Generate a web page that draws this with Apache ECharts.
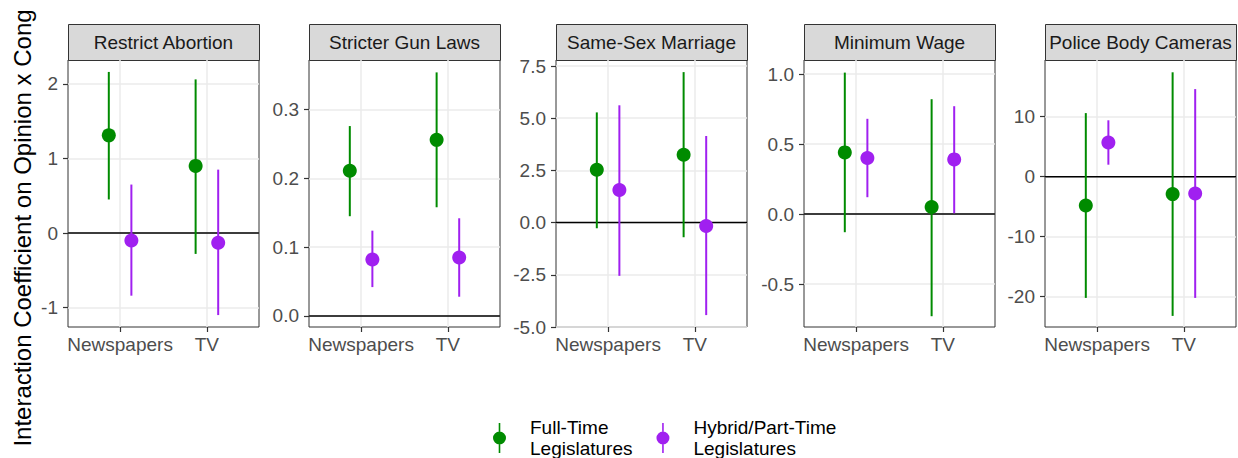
<!DOCTYPE html>
<html>
<head>
	<meta charset="utf-8" />
	<title>Interaction coefficients</title>
	<script src="https://cdn.jsdelivr.net/npm/echarts@6/dist/echarts.min.js"></script>
	<style>
		html, body { margin: 0; padding: 0; background: #fff; }
	</style>
</head>
<body>
	<div id="main" style="width: 1238px;height: 458px;"></div>
	<script type="text/javascript">

		// categories and facets
		var categories = ['Newspapers', 'TV'];
		var panels = ['Restrict Abortion', 'Stricter Gun Laws', 'Same-Sex Marriage', 'Minimum Wage', 'Police Body Cameras'];

		// Full-Time legislatures: estimate, lower, upper  (per panel: [Newspapers, TV])
		var fullEst = [[1.31, 0.90], [0.211, 0.256], [2.53, 3.25], [0.44, 0.05], [-4.8, -2.9]];
		var fullLo  = [[0.45, -0.28], [0.145, 0.158], [-0.27, -0.70], [-0.13, -0.73], [-20.2, -23.2]];
		var fullHi  = [[2.16, 2.06], [0.276, 0.354], [5.28, 7.21], [1.01, 0.82], [10.6, 17.4]];

		// Hybrid/Part-Time legislatures
		var partEst = [[-0.10, -0.13], [0.082, 0.085], [1.56, -0.16], [0.40, 0.39], [5.7, -2.8]];
		var partLo  = [[-0.84, -1.10], [0.042, 0.028], [-2.55, -4.43], [0.12, 0.005], [2.0, -20.2]];
		var partHi  = [[0.65, 0.85], [0.124, 0.142], [5.62, 4.15], [0.68, 0.77], [9.4, 14.6]];

		// y axis tick labels and extents for each facet
		var yTicks = [[-1, 0, 1, 2], [0, 0.1, 0.2, 0.3], [-5, -2.5, 0, 2.5, 5, 7.5], [-0.5, 0, 0.5, 1], [-20, -10, 0, 10]];
		var yDigits = [0, 1, 1, 1, 0];
		var yMin = [-1.26, -0.016, -5.0, -0.807, -25.05];
		var yMax = [2.32, 0.372, 7.79, 1.1, 19.45];

		var FONT = 'Liberation Sans, Arial, sans-serif';
		var GREEN = '#008B00', PURPLE = '#A020F0';
		var dodge = 0.13;

		// panel placement (px)
		var lefts = [68, 309, 556, 804, 1045];
		var panelW = 191, panelTop = 60, panelH = 267;

		var myChart = echarts.init(document.getElementById('main'), null, {renderer: 'svg'});

		function renderItem(params, api) {
			var x = api.value(0);
			var hi = api.coord([x, api.value(3)]);
			var lo = api.coord([x, api.value(2)]);
			var mid = api.coord([x, api.value(1)]);
			var color = api.visual('color');
			return {
				type: 'group',
				children: [
					{type: 'line', shape: {x1: hi[0], y1: hi[1], x2: lo[0], y2: lo[1]}, style: {stroke: color, lineWidth: 2}},
					{type: 'circle', shape: {cx: mid[0], cy: mid[1], r: 7}, style: {fill: color}}
				]
			};
		}

		function rows(est, lo, hi, off) {
			var out = [];
			for (var c = 0; c < categories.length; c++) {
				out.push([c + 1 + off, est[c], lo[c], hi[c]]);
			}
			return out;
		}

		var grids = [], xAxes = [], yAxes = [], series = [], graphics = [];

		for (var i = 0; i < panels.length; i++) {
			grids.push({
				left: lefts[i], top: panelTop, width: panelW, height: panelH,
				show: true, backgroundColor: '#fff', borderColor: '#333333', borderWidth: 1
			});
			xAxes.push({
				gridIndex: i, type: 'value', min: 0.4, max: 2.6,
				axisLine: {show: false, onZero: false},
				axisTick: {show: true, length: 5, customValues: [1, 2], lineStyle: {color: '#333333', width: 1.2}},
				axisLabel: {
					customValues: [1, 2], margin: 8, color: '#4D4D4D', fontSize: 19, fontFamily: FONT,
					formatter: function (v) { return categories[Math.round(v) - 1]; }
				},
				splitLine: {show: true, lineStyle: {color: '#EBEBEB', width: 1.5}}
			});
			(function (d) {
				yAxes.push({
					gridIndex: i, type: 'value', min: yMin[i], max: yMax[i],
					axisLine: {show: false, onZero: false},
					axisTick: {show: true, length: 5, customValues: yTicks[i], lineStyle: {color: '#333333', width: 1.2}},
					axisLabel: {
						customValues: yTicks[i], margin: 10, color: '#4D4D4D', fontSize: 19, fontFamily: FONT,
						formatter: function (v) { return v.toFixed(d); }
					},
					splitLine: {show: true, lineStyle: {color: '#EBEBEB', width: 1.5}}
				});
			})(yDigits[i]);

			// horizontal zero line
			series.push({
				type: 'line', xAxisIndex: i, yAxisIndex: i, silent: true, symbol: 'none', z: 2,
				data: [[0.4, 0], [2.6, 0]],
				lineStyle: {color: '#000', width: 1.5}
			});
			series.push({
				name: 'Full-Time', type: 'custom', xAxisIndex: i, yAxisIndex: i, z: 3,
				itemStyle: {color: GREEN}, renderItem: renderItem,
				encode: {x: 0, y: [1, 2, 3]},
				data: rows(fullEst[i], fullLo[i], fullHi[i], -dodge)
			});
			series.push({
				name: 'Hybrid/Part-Time', type: 'custom', xAxisIndex: i, yAxisIndex: i, z: 3,
				itemStyle: {color: PURPLE}, renderItem: renderItem,
				encode: {x: 0, y: [1, 2, 3]},
				data: rows(partEst[i], partLo[i], partHi[i], dodge)
			});

			// facet strip
			graphics.push({
				type: 'rect', left: lefts[i], top: 24,
				shape: {width: panelW, height: 36},
				style: {fill: '#D9D9D9', stroke: '#333333', lineWidth: 1}
			});
			graphics.push({
				type: 'text', x: lefts[i] + panelW / 2, y: 42,
				style: {text: panels[i], fontSize: 19, fontFamily: FONT, fill: '#1A1A1A', align: 'center', verticalAlign: 'middle'}
			});
		}

		// y axis title
		graphics.push({
			type: 'text', x: 22, y: 228, rotation: Math.PI / 2,
			style: {text: 'Interaction Coefficient on Opinion x Cong', fontSize: 24, fontFamily: FONT, fill: '#000', align: 'center', verticalAlign: 'middle'}
		});

		var keyIcon = 'path://M5.7,0H7.3V8.5H5.7Z M5.7,21.5H7.3V30H5.7Z M0,15A6.5,6.5 0 1,0 13,15A6.5,6.5 0 1,0 0,15Z';

		var option = {
			animation: false,
			grid: grids,
			xAxis: xAxes,
			yAxis: yAxes,
			legend: {
				left: 493, top: 414, padding: 0,
				itemWidth: 13, itemHeight: 30, itemGap: 24,
				data: [{name: 'Full-Time', icon: keyIcon}, {name: 'Hybrid/Part-Time', icon: keyIcon}],
				formatter: function (name) { return name + '\nLegislatures'; },
				textStyle: {fontSize: 19, fontFamily: FONT, color: '#000', lineHeight: 21, padding: [0, 0, 6, 19]}
			},
			graphic: graphics,
			series: series
		};

		myChart.setOption(option);

	</script>
</body>
</html>
